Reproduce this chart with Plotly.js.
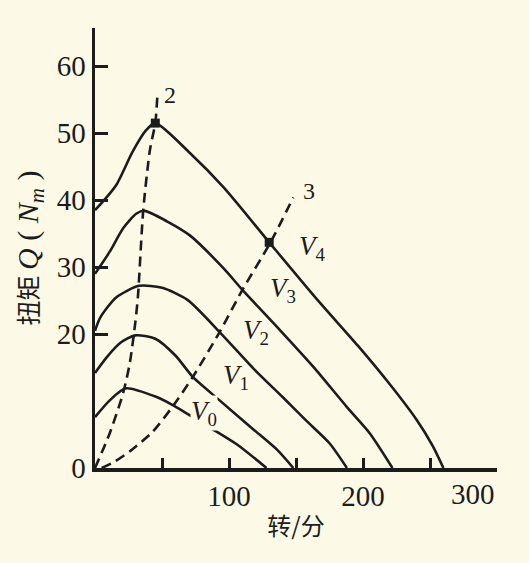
<!DOCTYPE html>
<html>
<head>
<meta charset="utf-8">
<script src="https://cdn.plot.ly/plotly-3.0.1.min.js"></script>
<style>
  html, body { margin: 0; padding: 0; background: #fcfae6; }
  #chart { width: 529px; height: 563px; }
</style>
</head>
<body>
<div id="chart"></div>
<script>
// 转/分 (rpm) vs 扭矩 Q (Nm)
const v4Speed = [0, 6, 16, 28, 38, 45, 71, 96, 130, 166, 196, 220, 240, 252, 260];
const v4Torque = [38.5, 39.8, 42.3, 47.2, 50.4, 51.5, 47.0, 41.9, 33.7, 25.1, 18.3, 12.5, 7.2, 3.3, 0];

const v3Speed = [0, 11, 21, 31, 37, 54, 71, 96, 110, 138, 163, 188, 205, 222];
const v3Torque = [29, 32.3, 35.8, 38.0, 38.4, 36.8, 34.7, 29.8, 26.6, 20.6, 15.1, 9.1, 5.2, 0];

const v2Speed = [0, 4, 16, 33, 50, 69, 93, 119, 140, 158, 175, 188];
const v2Torque = [20.5, 22.5, 25.5, 27.2, 26.9, 25.1, 20.3, 14.7, 10.6, 7.0, 3.7, 0];

const v1Speed = [0, 9, 19, 30, 45, 60, 73, 93, 118, 136, 148];
const v1Torque = [14.2, 16.6, 18.7, 19.8, 19.3, 16.8, 13.6, 10.1, 5.8, 2.7, 0];

const v0Speed = [0, 11, 23, 46, 58, 86, 106, 128];
const v0Torque = [7.6, 10.1, 11.9, 10.6, 9.4, 6.0, 3.5, 0];

// dashed curve 2 (locus of peak torque) and curve 3
const curve2Speed = [0, 11, 21, 26, 30, 32, 36, 41, 45, 46.5];
const curve2Torque = [0, 5.2, 11.2, 15.7, 21.6, 25.5, 38.5, 47.5, 51.5, 55.4];

const curve3Speed = [5, 15, 28, 43, 58, 73, 93, 110, 131, 148];
const curve3Torque = [0, 1.0, 2.8, 5.4, 9.2, 13.6, 20.3, 26.6, 33.7, 40.4];

const pointSpeed = [45, 130];
const pointTorque = [51.5, 33.7];

const yTickVals = [0, 20, 30, 40, 50, 60];
const yTickText = ['0', '20', '30', '40', '50', '60'];
const xTickVals = [100, 200];
const xTickText = ['100', '200'];
const xMinorStep = 50;
const xEndLabel = '300';

const curveLabels = ['<i>V</i><sub>4</sub>', '<i>V</i><sub>3</sub>', '<i>V</i><sub>2</sub>', '<i>V</i><sub>1</sub>', '<i>V</i><sub>0</sub>'];
const curveLabelX = [162, 140, 120, 105, 81];
const curveLabelY = [32.8, 26.6, 20.3, 13.6, 8.2];

const ink = '#1c1c1c';
const bg = '#fcfae6';
const serif = 'Liberation Serif, Times New Roman, serif';

function solid(x, y) {
  return { x: x, y: y, mode: 'lines', type: 'scatter',
    line: { color: ink, width: 2.6, shape: 'spline', smoothing: 0.7 }, hoverinfo: 'skip' };
}
function dashed(x, y) {
  return { x: x, y: y, mode: 'lines', type: 'scatter',
    line: { color: ink, width: 2.6, dash: '10px,6px', shape: 'spline', smoothing: 0.7 }, hoverinfo: 'skip' };
}

const traces = [
  solid(v4Speed, v4Torque),
  solid(v3Speed, v3Torque),
  solid(v2Speed, v2Torque),
  solid(v1Speed, v1Torque),
  solid(v0Speed, v0Torque),
  dashed(curve2Speed, curve2Torque),
  dashed(curve3Speed, curve3Torque),
  { x: pointSpeed, y: pointTorque, mode: 'markers', type: 'scatter',
    marker: { color: ink, size: 9, symbol: 'square' }, hoverinfo: 'skip' }
];

const annotations = curveLabels.map((t, i) => ({
  x: curveLabelX[i], y: curveLabelY[i], xref: 'x', yref: 'y', text: t, showarrow: false,
  font: { family: serif, size: 27, color: ink }, bgcolor: i === 4 ? bg : 'rgba(0,0,0,0)', borderpad: 0
}));
annotations.push({ x: 56, y: 55.7, xref: 'x', yref: 'y', text: '2', showarrow: false,
  font: { family: serif, size: 24, color: ink } });
annotations.push({ x: 160, y: 41.3, xref: 'x', yref: 'y', text: '3', showarrow: false,
  font: { family: serif, size: 24, color: ink } });
annotations.push({ x: 300, y: 0, xref: 'x', yref: 'y', xanchor: 'right', yanchor: 'top', yshift: -8,
  text: xEndLabel, showarrow: false, font: { family: serif, size: 29, color: ink } });

const layout = {
  width: 529, height: 563,
  paper_bgcolor: bg, plot_bgcolor: bg,
  margin: { l: 95, r: 32, t: 28, b: 95 },
  showlegend: false,
  xaxis: {
    range: [0, 300], showgrid: false, zeroline: false,
    showline: true, linecolor: ink, linewidth: 3.5,
    ticks: 'inside', ticklen: 10, tickwidth: 3, tickcolor: ink,
    tickvals: xTickVals, ticktext: xTickText,
    minor: { dtick: xMinorStep, tick0: 0, ticks: 'inside', ticklen: 10, tickwidth: 3, tickcolor: ink, showgrid: false },
    tickfont: { family: serif, size: 29, color: ink },
    title: { text: '转/分', font: { family: 'Noto Sans CJK SC', size: 24, color: ink }, standoff: 8 }
  },
  yaxis: {
    range: [0, 65.7], showgrid: false, zeroline: false,
    showline: true, linecolor: ink, linewidth: 3.5,
    ticks: 'inside', ticklen: 13, tickwidth: 3, tickcolor: ink,
    tickvals: yTickVals, ticktext: yTickText,
    tickfont: { family: serif, size: 29, color: ink },
    title: { text: '扭矩 <span style="font-family:Liberation Serif;font-size:30px"><i>Q</i> ( <i>N<sub>m</sub></i> )</span>',
      font: { family: 'Noto Sans CJK SC', size: 25, color: ink }, standoff: 12 }
  },
  annotations: annotations
};

Plotly.newPlot('chart', traces, layout, { displayModeBar: false, staticPlot: true });
</script>
</body>
</html>
